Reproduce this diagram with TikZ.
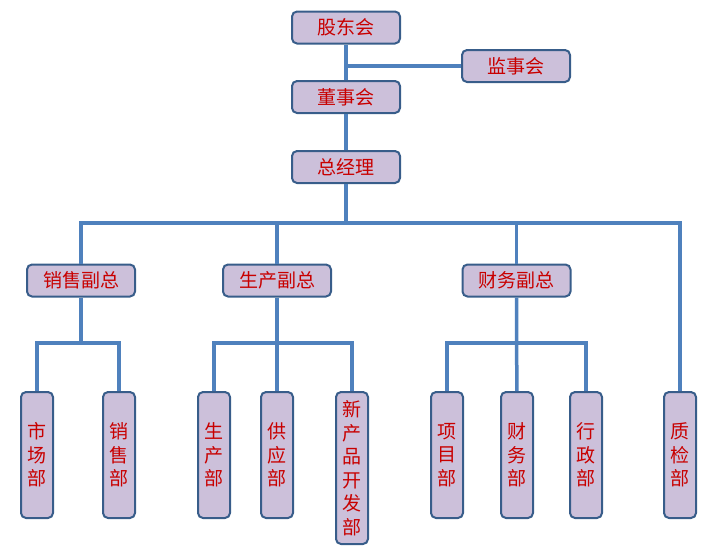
\documentclass[tikz,border=0pt]{standalone}
\usepackage{fontspec}
\setmainfont{Noto Sans CJK SC}
\definecolor{boxfill}{RGB}{204,192,218}
\definecolor{boxline}{RGB}{56,93,138}
\definecolor{linkblue}{RGB}{79,129,189}
\definecolor{labelred}{RGB}{200,0,0}

\begin{document}
\begin{tikzpicture}[x=1pt,y=-1pt,
	post/.style={fill=boxfill, draw=boxline, line width=2pt, rounded corners=5pt, text=labelred, font=\fontsize{19}{23.5}\selectfont, minimum width=108pt, minimum height=32pt, inner sep=0pt},
	dept/.style={post, minimum width=32pt, minimum height=126pt, align=center, anchor=north},
	link/.style={draw=linkblue, line width=3.5pt}]
	\useasboundingbox (0,0) rectangle (720,550);
	\draw (346,27.5) node[post](gdh) {股东会};
	\draw (516,66) node[post](jsh) {监事会};
	\draw (346,97) node[post](dsh) {董事会};
	\draw (346,167) node[post](zjl) {总经理};
	\draw (81,280.5) node[post](xsfz) {销售副总};
	\draw (277,280.5) node[post](scfz) {生产副总};
	\draw (516.5,280.5) node[post](cwfz) {财务副总};
	\draw (37,391) node[dept](shichang) {市\\场\\部};
	\draw (119,391) node[dept](xiaoshou) {销\\售\\部};
	\draw (214,391) node[dept](shengchan) {生\\产\\部};
	\draw (277,391) node[dept](gongying) {供\\应\\部};
	\draw (352,391) node[dept, minimum height=152pt](xinpin) {新\\产\\品\\开\\发\\部};
	\draw (447,391) node[dept](xiangmu) {项\\目\\部};
	\draw (517,391) node[dept](caiwu) {财\\务\\部};
	\draw (586,391) node[dept](xingzheng) {行\\政\\部};
	\draw (680,391) node[dept](zhijian) {质\\检\\部};
	\coordinate (bus) at (346,223);
	\coordinate (xsbus) at (81,343);
	\coordinate (scbus) at (277,343);
	\coordinate (cwbus) at (516.5,343);
	\draw[link] (gdh) -- (dsh);
	\draw[link] (jsh) -- (jsh -| gdh);
	\draw[link] (dsh) -- (zjl);
	\draw[link] (zjl) -- (bus);
	\draw[link] (xsfz) |- (bus) -| (zhijian);
	\draw[link] (scfz) -- (scfz |- bus);
	\draw[link] (cwfz) -- (cwfz |- bus);
	\draw[link] (xsfz) -- (xsbus);
	\draw[link] (shichang) |- (xsbus) -| (xiaoshou);
	\draw[link] (scfz) -- (gongying);
	\draw[link] (shengchan) |- (scbus) -| (xinpin);
	\draw[link] (cwfz) -- (caiwu);
	\draw[link] (xiangmu) |- (cwbus) -| (xingzheng);
\end{tikzpicture}
\end{document}
